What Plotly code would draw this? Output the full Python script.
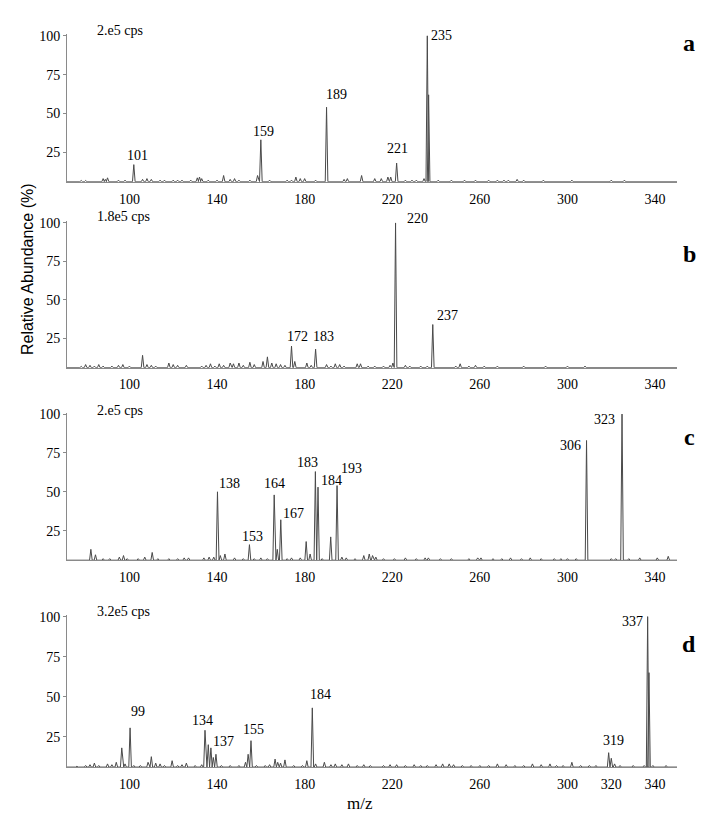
import plotly.graph_objects as go

# ---------------- data ----------------
# Panel a
mz_a = [78, 80, 88, 89, 90, 95, 98, 102, 106, 108, 110, 114, 116, 120, 122, 124, 128, 131, 132, 133,
        136, 140, 143, 146, 148, 150, 155, 158.5, 160, 164, 172, 174, 176, 178, 180, 185, 190, 198, 199.5,
        206, 212, 215, 218, 219.3, 222, 226, 229, 231, 234.5, 236, 236.6, 241, 247, 253, 258, 264, 268, 271,
        273, 277, 280, 289, 302, 320, 326]
int_a = [6.8, 6.8, 8, 7.5, 8.5, 7, 7, 17, 7.5, 8, 7.5, 7, 7, 7, 7, 7, 7, 8.5, 9, 8,
         7, 7, 10, 7.5, 8, 7, 7, 10, 33, 7, 7, 7, 9, 8, 8, 7, 54, 7.5, 8,
         10, 8, 8, 9, 9, 18, 7, 7, 7, 8, 100, 62, 7, 7, 7, 7, 7, 7, 7,
         7, 7.5, 7, 7, 7, 7, 7]
lab_a_mz = [102, 160, 190, 222, 236]
lab_a_txt = ["101", "159", "189", "221", "235"]

# Panel b
mz_b = [78, 80, 82, 84, 86, 88, 92, 95, 97, 100, 106, 108, 110, 112, 118, 120, 122, 126, 133, 135,
        137, 139, 141, 143, 146, 147.5, 150, 152, 155, 157, 161, 163, 165, 167, 169, 171, 174, 175.5, 181, 183,
        185, 190, 192, 194, 196, 198, 204, 205.5, 209, 212, 216, 219, 220.3, 221.5, 226, 228, 233, 236, 238.5,
        249, 251, 255, 258, 262, 268, 280, 290, 300, 308]
int_b = [6.8, 8, 7.5, 7, 8, 7, 7, 7.5, 8, 7, 14, 8, 7.5, 7, 9, 8, 7.5, 7.5, 7, 7.5,
         8.5, 7, 8.5, 7.5, 9, 8.5, 9, 7.5, 9.5, 8, 10, 13, 9, 8.5, 8, 7.5, 20, 10, 9, 7.5,
         18, 8, 7, 8.5, 8, 7, 8.5, 8.5, 7, 7, 7, 7.5, 9, 100, 7.5, 7, 7, 7, 34,
         7, 8.5, 7, 7.5, 7, 7, 7, 7, 7, 7]
lab_b_mz = [174, 185, 221.5, 238.5]
lab_b_txt = ["172", "183", "220", "237"]

# Panel c
mz_c = [82.4, 84.5, 88, 91, 95.4, 97.3, 99, 104, 107, 110.4, 113, 118, 122, 125, 127, 134, 136.4, 138.5,
        140.2, 141.5, 143.6, 148, 152, 154.8, 157, 160, 163, 166.1, 167.5, 169.1, 172, 174, 178, 180.7,
        182.5, 184.9, 186.1, 188, 191.9, 194.8, 197, 199, 203, 207, 209.5, 211, 212.5, 216, 221, 226,
        231, 235, 236.5, 242, 247, 255, 259, 260.5, 266, 270, 274, 279, 283, 288, 294, 297, 300, 304,
        308.7, 320, 322, 324.9, 328, 333, 341, 346]
int_c = [13, 9.5, 7, 7, 8, 9, 7, 7, 8, 11, 7, 7, 7, 7.5, 7.5, 7.5, 8, 8,
         50, 9, 10, 7.5, 7, 16, 7, 7.5, 7, 48, 13, 32, 7, 7.5, 7.5, 18,
         10, 63, 53, 7, 21, 54, 8, 7.5, 7, 9, 10, 9, 8, 7, 7, 7.5,
         7, 7.5, 7.5, 7, 7, 7, 7.5, 7.5, 7, 7, 7.5, 7, 7.5, 7, 7, 7, 7, 7,
         83, 7, 7, 100, 7, 7.5, 7.5, 8.5]
lab_c_mz = [140.2, 154.8, 166.1, 169.1, 184.9, 186.1, 194.8, 308.7, 324.9]
lab_c_txt = ["138", "153", "164", "167", "183", "184", "193", "306", "323"]

# Panel d
mz_d = [76, 80, 82, 84, 86, 90, 92, 94, 96.5, 98, 100.3, 102, 105, 108.5, 110, 112, 114, 116, 119.5,
        122, 124, 126, 130, 133, 134.5, 136, 137.2, 138.3, 139.5, 142, 146, 150, 153, 154.2, 155.5, 158,
        162, 164, 166.5, 167.7, 169, 171, 175, 179, 181, 183.5, 185, 189, 192, 194, 197, 200, 204, 207,
        210, 216, 219, 222, 226, 230, 233, 236, 240, 243, 246, 248, 252, 256, 260, 264, 268, 272, 276,
        280, 284, 288, 292, 295, 298, 302, 306, 310, 313, 318.8, 320, 321.5, 324, 330, 335, 336.6,
        337.2, 339, 345]
int_d = [6.5, 7, 7.5, 8.5, 7, 8, 7.5, 9, 18, 8, 30.5, 7, 7, 9, 12.5, 8.5, 8, 7, 10,
         7, 7.5, 8.5, 7, 7.5, 29, 20, 18, 12, 14, 7, 7, 7, 9, 14, 22.5, 7,
         7, 7.5, 11, 9, 8.5, 10.5, 7, 7, 10, 43, 8, 9, 7.5, 8, 7.5, 8, 7, 7.5,
         7, 7, 7.5, 7.5, 7, 7.5, 7, 7, 7.5, 8, 8, 7.5, 7, 7, 7, 7, 8, 7.5, 7,
         7, 8, 7.5, 8, 7, 7, 9, 7, 7, 7, 15, 11.5, 8, 7, 7, 7, 100,
         65, 7, 7]
lab_d_mz = [100.3, 134.5, 137.2, 155.5, 183.5, 318.8, 336.6]
lab_d_txt = ["99", "134", "137", "155", "184", "319", "337"]

scan_txt = ["2.e5 cps", "1.8e5 cps", "2.e5 cps", "3.2e5 cps"]
panel_txt = ["a", "b", "c", "d"]
x_ticks = [100, 140, 180, 220, 260, 300, 340]
x_ticks_d = [100, 140, 180, 220, 260, 300, 320, 340]
y_ticks = [25, 50, 75, 100]

# ---------------- styling ----------------
BASE = 6.0
XMIN, XMAX = 71.5, 350.0
HW = 0.6
SERIF = "Liberation Serif"
LINE_COL = "#4a4a4a"
AX_COL = "#8a8a8a"

W, H = 715, 820
# (top px of plot, bottom px of plot)
panel_px = [(28.5, 177), (217, 364.3), (409.5, 558.3), (613.5, 766.7)]
x_px = (67, 677)
letter_y_px = [37, 250, 434, 643]
scan_y_px = [25, 212, 407, 610]

label_style = {
    0: {"101": ("center", "bottom", 4, 0), "159": ("center", "bottom", 3, -1),
        "189": ("center", "bottom", 10, 3), "221": ("center", "bottom", 1, 5),
        "235": ("left", "middle", 2, 0)},
    1: {"172": ("center", "bottom", 6, 0), "183": ("center", "bottom", 8, 3),
        "220": ("left", "middle", 9, 4), "237": ("left", "bottom", 2, 0)},
    2: {"138": ("left", "bottom", 0, -1), "153": ("center", "bottom", 3, -1),
        "164": ("center", "bottom", 0, 2), "167": ("left", "bottom", 0, -3),
        "183": ("center", "bottom", -8, 0), "184": ("left", "bottom", 1, -3),
        "193": ("left", "bottom", 2, 8), "306": ("right", "middle", -4, -5),
        "323": ("right", "middle", -5, -5)},
    3: {"99": ("center", "bottom", 8, 7), "134": ("center", "bottom", -2, 0),
        "137": ("left", "bottom", 0, -3), "155": ("center", "bottom", 3, 2),
        "184": ("center", "bottom", 8, 4), "319": ("center", "bottom", 5, 3),
        "337": ("right", "middle", -3, -5)},
}

panels = [(mz_a, int_a, lab_a_mz, lab_a_txt), (mz_b, int_b, lab_b_mz, lab_b_txt),
          (mz_c, int_c, lab_c_mz, lab_c_txt), (mz_d, int_d, lab_d_mz, lab_d_txt)]

fig = go.Figure()
annotations = []
layout = dict(width=W, height=H, autosize=False, margin=dict(l=0, r=0, t=0, b=0),
              plot_bgcolor="white", paper_bgcolor="white", showlegend=False,
              font=dict(family=SERIF, size=14, color="black"))

for i, (mz, inten, lmz, ltxt) in enumerate(panels):
    n = i + 1
    xa = "x" if n == 1 else f"x{n}"
    ya = "y" if n == 1 else f"y{n}"
    # build stick-triangle spectrum
    xs, ys = [XMIN], [BASE]
    for m, h in sorted(zip(mz, inten)):
        xs += [m - HW, m, m + HW]
        ys += [BASE, h, BASE]
    xs.append(XMAX)
    ys.append(BASE)
    fig.add_trace(go.Scatter(x=xs, y=ys, mode="lines", xaxis=xa, yaxis=ya,
                             line=dict(color=LINE_COL, width=1), hoverinfo="skip"))
    top, bot = panel_px[i]
    dom_y = [1 - bot / H, 1 - top / H]
    key = "" if n == 1 else str(n)
    layout["xaxis" + key] = dict(domain=[x_px[0] / W, x_px[1] / W], range=[XMIN, XMAX],
                                 anchor=ya, showgrid=False, zeroline=False, showline=True,
                                 linecolor=AX_COL, linewidth=1, ticks="outside", ticklen=4,
                                 tickcolor="rgba(0,0,0,0)",
                                 tickvals=x_ticks_d if n == 4 else x_ticks,
                                 tickfont=dict(family=SERIF, size=14, color="black"))
    layout["yaxis" + key] = dict(domain=dom_y, range=[BASE, 101], anchor=xa,
                                 showgrid=False, zeroline=False, showline=True,
                                 linecolor=AX_COL, linewidth=1, ticks="outside", ticklen=3,
                                 tickcolor=AX_COL, tickvals=y_ticks,
                                 tickfont=dict(family=SERIF, size=14, color="black"))
    hmap = dict(zip(mz, inten))
    for m, t in zip(lmz, ltxt):
        xan, yan, xs_, ys_ = label_style[i][t]
        annotations.append(dict(x=m, y=hmap[m], xref=xa, yref=ya, text=t, showarrow=False,
                                xanchor=xan, yanchor=yan, xshift=xs_, yshift=ys_,
                                font=dict(family=SERIF, size=14, color="black")))
    annotations.append(dict(x=94.5 / W, y=1 - scan_y_px[i] / H, xref="paper", yref="paper",
                            text=scan_txt[i], showarrow=False, xanchor="left", yanchor="middle",
                            font=dict(family=SERIF, size=14, color="black")))
    annotations.append(dict(x=689 / W, y=1 - letter_y_px[i] / H, xref="paper", yref="paper",
                            text=f"<b>{panel_txt[i]}</b>", showarrow=False, xanchor="center",
                            yanchor="middle", font=dict(family=SERIF, size=24, color="black")))

annotations.append(dict(x=27 / W, y=1 - 265 / H, xref="paper", yref="paper",
                        text="Relative Abundance (%)", showarrow=False, textangle=-90,
                        xanchor="center", yanchor="middle",
                        font=dict(family="Liberation Sans", size=16, color="black")))
annotations.append(dict(x=360 / W, y=1 - 803 / H, xref="paper", yref="paper",
                        text="m/z", showarrow=False, xanchor="center", yanchor="middle",
                        font=dict(family=SERIF, size=17, color="black")))
layout["annotations"] = annotations
fig.update_layout(**layout)
fig.write_html("out.html", config={"displayModeBar": False},
               post_script="document.body.style.margin='0px';document.body.style.overflow='hidden';")
